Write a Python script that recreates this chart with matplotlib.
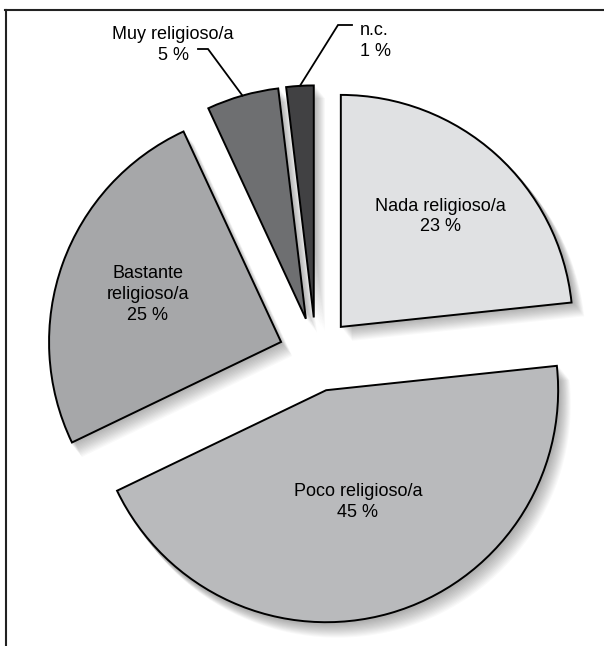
import numpy as np
import matplotlib
matplotlib.use('Agg')
import matplotlib.pyplot as plt
from matplotlib.patches import Wedge
from matplotlib.lines import Line2D

plt.rcParams['font.family'] = ['Liberation Sans', 'DejaVu Sans']

#data (wedge shares as drawn, printed labels as shown)
categories = ['Nada religioso/a', 'Poco religioso/a', 'Bastante\nreligioso/a', 'Muy religioso/a', 'n.c.']
shares = [23.3, 44.5, 25.2, 5.0, 1.9]
pct_text = ['23 %', '45 %', '25 %', '5 %', '1 %']
colors = ['#e0e1e3', '#b9babc', '#a6a7a9', '#6e6f71', '#414143']

W, H = 604, 646
R = 232.0           # pie radius in pixels
cx, cy = 316, 354.5  # pie centre in pixels (from top-left)

fig = plt.figure(figsize=(W/100, H/100), dpi=100)
ax = fig.add_axes([0, 0, 1, 1])

explode = [0.16]*5
wedges, _ = ax.pie(shares, startangle=90, counterclock=False, explode=explode,
                   colors=colors, radius=1,
                   wedgeprops=dict(edgecolor='black', linewidth=1.4, zorder=3))

#soft drop shadow: stacked translucent copies shifted down-right
for w in wedges:
    for k in range(1, 15):
        d = k/R
        sh = Wedge((w.center[0] + d*0.8, w.center[1] - d), w.r + 1.5/R,
                   w.theta1, w.theta2, facecolor='black', edgecolor='none',
                   alpha=0.022, zorder=1)
        ax.add_patch(sh)

#inner labels
inner_dist = [0.64, 0.50, 0.61]
for i in range(3):
    w = wedges[i]
    th = np.deg2rad((w.theta1 + w.theta2)/2)
    x = w.center[0] + inner_dist[i]*np.cos(th)
    y = w.center[1] + inner_dist[i]*np.sin(th)
    ax.text(x, y, categories[i] + '\n' + pct_text[i], ha='center', va='center',
            fontsize=13, linespacing=1.3, zorder=5)

def px(x, y):
    return (x - cx)/R, (cy - y)/R

#outer labels with leader lines
outer = {3: dict(text=px(173, 45), ha='center', elbow=px(208, 49), end=px(198, 49)),
         4: dict(text=px(360, 41), ha='left', elbow=px(338, 25), end=px(352, 25))}
for i, o in outer.items():
    w = wedges[i]
    th = np.deg2rad((w.theta1 + w.theta2)/2)
    x0 = w.center[0] + np.cos(th)
    y0 = w.center[1] + np.sin(th)
    ax.plot([x0, o['elbow'][0], o['end'][0]], [y0, o['elbow'][1], o['end'][1]],
            color='black', lw=1.3, zorder=4, solid_joinstyle='miter')
    ax.text(o['text'][0], o['text'][1], categories[i] + '\n' + pct_text[i],
            ha=o['ha'], va='center', fontsize=13, linespacing=1.3, zorder=5)

ax.set_xlim(-cx/R, (W - cx)/R)
ax.set_ylim(-(H - cy)/R, cy/R)
ax.set_aspect('auto')
ax.axis('off')

#frame: top and left edges only
fig.add_artist(Line2D([5/W, 1], [1 - 10/H, 1 - 10/H], color='#222222', lw=1.5))
fig.add_artist(Line2D([6/W, 6/W], [0, 1 - 10/H], color='#222222', lw=1.5))

plt.savefig('out.png', dpi=100)
